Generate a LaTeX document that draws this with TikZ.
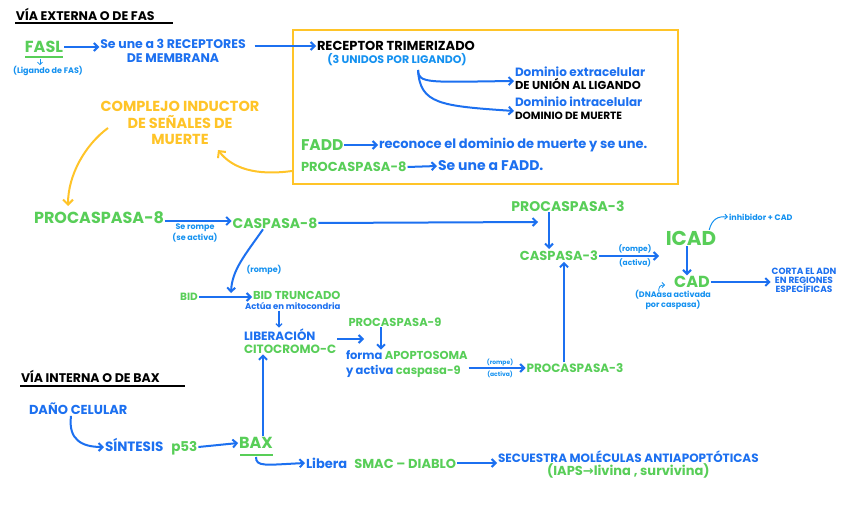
\documentclass[tikz,border=0pt]{standalone}
\usepackage{fontspec}
\setmainfont{Poppins}
\newfontfamily\dv{DejaVu Sans}
\usetikzlibrary{arrows.meta}
\definecolor{gr}{RGB}{88,206,88}
\definecolor{bl}{RGB}{28,112,240}
\definecolor{cy}{RGB}{20,145,240}
\definecolor{yl}{RGB}{255,196,40}
\newcommand{\fz}[1]{\fontsize{#1}{#1}\selectfont\bfseries}
\begin{document}
\begin{tikzpicture}[x=1pt,y=-1pt,
  every node/.style={inner sep=0pt,outer sep=1pt},
  tgr/.style={text=gr},
  tbl/.style={text=bl},
  tcy/.style={text=cy},
  tyl/.style={text=yl},
  tbk/.style={text=black},
  arr/.style={draw=bl,line width=2pt,-{Straight Barb[length=4pt,width=8pt]}},
  arrs/.style={draw=bl,line width=1.3pt,-{Straight Barb[length=3pt,width=6pt]}},
  carr/.style={draw=cy,line width=1pt,-{Straight Barb[length=2.5pt,width=5pt]}},
  yarr/.style={draw=yl,line width=2pt,-{Straight Barb[length=5pt,width=10pt]}},
  ul/.style={line width=1.6pt}]
\useasboundingbox (0,0) rectangle (848,505);
\fill[white] (0,0) rectangle (848,505);

% ---------- Via externa ----------
\node[tbk,font=\fz{12.5},anchor=west] (t1) at (15,14) {VÍA EXTERNA O DE FAS};
\draw[ul,black] (15,23) -- (173,23);

\node[tgr,font=\fz{16}] (fasl) at (44,47) {FASL};
\draw[ul,gr] (25,57) -- (63,57);
\node[tcy,font=\fz{8}] (lig) at (48,71) {(Ligando de FAS)};
\draw[carr,line width=0.8pt] (40,59) -- (lig.north -| 40,0);

\node[tbl,font=\fz{12.5},align=center] (sune) at (173,51) {Se une a 3 RECEPTORES\\[1pt]DE MEMBRANA};
\draw[arr] (fasl.east) -- (sune.west |- fasl.east);

\node[draw=yl,line width=2pt,minimum width=385pt,minimum height=154pt] (box) at (485.5,107) {};

\node[tbk,font=\fz{13},anchor=west] (rec) at (316,46) {RECEPTOR TRIMERIZADO};
\draw[arr] ([xshift=8pt]sune.east |- rec.west) -- (rec.west);
\node[tcy,font=\fz{11}] (uni) at (397,60) {(3 UNIDOS POR LIGANDO)};

\node[anchor=west,align=left,font=\fz{12}] (dext) at (514,78) {{\color{bl}Dominio extracelular}\\[1pt]{\color{black}\fz{11.5}DE UNIÓN AL LIGANDO}};
\node[anchor=west,align=left,font=\fz{12}] (dint) at (514,108) {{\color{bl}Dominio intracelular}\\[1pt]{\color{black}\fz{10.5}DOMINIO DE MUERTE}};
\coordinate (dsrc) at (418,70);
\draw[arr] (dsrc) .. controls (418,84) and (430,82) .. ([yshift=-3pt]dext.west);
\draw[arr] (dsrc) .. controls (420,104) and (440,106) .. ([yshift=-3pt]dint.west);

\node[tgr,font=\fz{15.5},anchor=west] (fadd) at (300,145) {FADD};
\node[tbl,font=\fz{13},anchor=west] (recon) at (378,145) {reconoce el dominio de muerte y se une.};
\draw[arr] (fadd.east) -- (recon.west);
\node[tgr,font=\fz{13},anchor=west] (p8b) at (300,167) {PROCASPASA-8};
\node[tbl,font=\fz{14},anchor=west] (sfadd) at (437,166) {Se une a FADD.};
\draw[arr] (p8b.east) -- (sfadd.west);

\node[tyl,font=\fz{14.5},align=center] (disc) at (180,123) {COMPLEJO INDUCTOR\\[2pt]DE SEÑALES DE\\[2pt]MUERTE};
\draw[yarr] ([yshift=14pt]box.south west) .. controls (255,176) and (232,168) .. (218,150);
\coordinate (dsc) at (108,128);

% ---------- caspasa-8 ----------
\node[tgr,font=\fz{16}] (p8) at (99,218) {PROCASPASA-8};
\draw[yarr] (dsc) .. controls (85,145) and (68,175) .. (68,206);
\node[tgr,font=\fz{14}] (c8) at (275,223) {CASPASA-8};
\draw[arr] (p8.east |- 0,221) -- (c8.west |- 0,221);
\node[tcy,font=\fz{8},align=center] (srompe) at (195,233) {Se rompe\\[0pt](se activa)};

\node[tgr,font=\fz{14}] (p3t) at (568,206) {PROCASPASA-3};
\node[tgr,font=\fz{13}] (c3) at (559,256) {CASPASA-3};
\coordinate (c3in) at (549,249);
\draw[arr] (p3t.south -| c3in) -- (c3in);
\coordinate (j3) at (538,222);
\draw[arr] (c8.east) -- (j3);

\node[tgr,font=\fz{20}] (icad) at (691,238) {ICAD};
\node[tgr,font=\fz{16}] (cad) at (692,282) {CAD};
\coordinate (ic) at (659,256);
\draw[arr] (c3.east) -- (ic);
\node[tcy,font=\fz{7.5}] (ra1) at (635,249) {(rompe)};
\node[tcy,font=\fz{7.5}] (ra2) at (635,263) {(activa)};
\draw[arr] (icad.south -| 687,0) -- (cad.north -| 687,0);
\node[tcy,font=\fz{8},anchor=west] (inh) at (728,217) {inhibidor + CAD};
\draw[carr] ([xshift=-8pt]icad.north east) .. controls (712,219) and (718,216) .. (inh.west);
\node[tcy,font=\fz{8},align=center] (dnaasa) at (673,300) {(DNAasa activada\\[0pt]por caspasa)};
\draw[carr,line width=0.8pt] (659,293) .. controls (658,287) and (660,285) .. (665,285);
\node[tbl,font=\fz{9},align=center] (corta) at (804,280) {CORTA EL ADN\\[0pt]EN REGIONES\\[0pt]ESPECÍFICAS};
\draw[arr] (cad.east) -- (corta.west |- cad.east);

% ---------- BID ----------
\node[tgr,font=\fz{10.5}] (bid) at (189,297) {BID};
\node[tgr,font=\fz{11.5},anchor=west] (bidt) at (252,295) {BID TRUNCADO};
\draw[arr] (bid.east) -- (bidt.west |- bid.east);
\coordinate (bidj) at (231,293);
\draw[arr] ([xshift=-12pt]c8.south) .. controls (245,255) and (232,270) .. (bidj);
\node[tcy,font=\fz{8}] (rompe) at (264,270) {(rompe)};
\node[tbl,font=\fz{8.5},anchor=west] (act) at (244,306) {Actúa en mitocondria};

\node[anchor=west,align=left,font=\fz{12}] (lib) at (243,341) {{\color{bl}LIBERACIÓN}\\[1pt]{\color{gr}CITOCROMO-C}};
\draw[arrs] (act.south -| 279,0) -- (lib.north -| 279,0);
\node[tgr,font=\fz{11.5}] (p9) at (395,322) {PROCASPASA-9};
\coordinate (a9) at (364,339);
\draw[arr] (lib.east |- a9) -- (a9);
\node[anchor=west,align=left,font=\fz{11.5}] (forma) at (345,364) {{\color{bl}forma} {\color{gr}APOPTOSOMA}\\[3pt]{\color{bl}y activa} {\color{gr}caspasa-9}};
\draw[arr] (p9.south -| 381,0) -- (forma.north -| 381,0);
\node[tgr,font=\fz{12}] (p3l) at (575,368) {PROCASPASA-3};
\draw[arr] (forma.east |- 0,368) -- (p3l.west |- 0,368);
\node[tcy,font=\fz{6}] (ra3) at (500,363) {(rompe)};
\node[tcy,font=\fz{6}] (ra4) at (500,374) {(activa)};
\draw[arr] (p3l.north -| 564,0) -- (c3.south -| 564,0);

% ---------- Via interna ----------
\node[tbk,font=\fz{12.5},anchor=west] (t2) at (20,376) {VÍA INTERNA O DE BAX};
\draw[ul,black] (20,386) -- (185,386);
\node[tbl,font=\fz{13},anchor=west] (dano) at (28,409) {DAÑO CELULAR};
\node[anchor=west,font=\fz{13.5}] (sint) at (104,447) {{\color{bl}SÍNTESIS}\hspace{8pt}{\color{gr}p53}};
\draw[arr] (dano.south -| 71,0) .. controls (68,440) and (82,447) .. (sint.west);
\node[tgr,font=\fz{16}] (bax) at (256,443) {BAX};
\draw[ul,gr] (240,455) -- (273,455);
\draw[arr] (sint.east) -- (bax.west);
\draw[arr] (bax.north -| 263,0) -- (lib.south -| 263,0);
\node[anchor=west,font=\fz{13}] (smac) at (305,463) {{\color{bl}Libera}\hspace{7pt}{\color{gr}SMAC -- DIABLO}};
\draw[arr] (256,457) .. controls (256,467) and (265,465) .. (smac.west);
\node[anchor=west,align=center,font=\fz{12}] (sec) at (497,464) {{\color{bl}SECUESTRA MOLÉCULAS ANTIAPOPTÓTICAS}\\[1pt]{\color{gr}\fz{13}(IAPS{\dv →}livina , survivina)}};
\draw[arr] (smac.east) -- (sec.west |- smac.east);
\end{tikzpicture}
\end{document}
